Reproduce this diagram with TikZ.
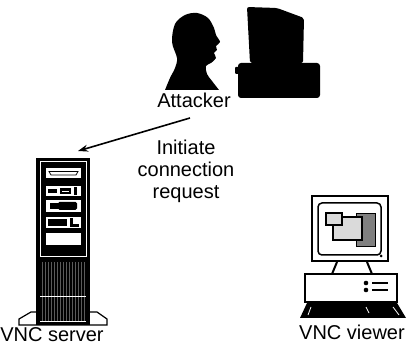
\documentclass[tikz,border=0pt]{standalone}
\usepackage{fontspec}
\setmainfont{Liberation Sans}
\usepackage{tikz}
\usetikzlibrary{arrows.meta}
\usepackage{xcolor}
\definecolor{PanelGrey}{HTML}{5A5A5A}
\definecolor{WinLight}{HTML}{DADADA}
\definecolor{WinDark}{HTML}{808080}

\begin{document}
\begin{tikzpicture}[x=1pt,y=-1pt,
    lbl/.style={font=\fontsize{20}{22}\selectfont,inner sep=0pt},
    outline/.style={draw=black,line width=2pt,fill=white}]
    \useasboundingbox (0,0) rectangle (408,345);

    % attacker head
    \fill plot[smooth,tension=0.55] coordinates {(165,90) (170,78) (175,68) (177,58) (172,42) (175,24)
        (185,15) (197,13) (208,18) (214,28) (216,35) (220,42) (216,46) (217,50) (214,53)
        (216,58) (211,63) (206,66) (207,74) (212,81) (219,90)} -- cycle;
    % attacker computer
    \fill[rounded corners=2pt] (247,7) -- (277,8) -- (304,18) -- (303,63) -- (250,63) -- cycle;
    \fill[rounded corners=3pt] (238,63) rectangle (320,98);
    \fill[rounded corners=1pt] (235,67) rectangle (240,74);
    \node[lbl,anchor=base] (attacker) at (194,108) {Attacker};

    % server tower
    \draw[draw=black,line width=1.2pt,fill=white] (19,325) -- (19,319) -- (31,312) -- (97,312)
        -- (107,319) -- (107,325) -- cycle;
    \fill (36,158) rectangle (90,325);
    \draw[white,line width=1pt] (40,161.5) rectangle (86.5,257);
    \foreach \x in {42,45,...,84}
        \draw[PanelGrey,line width=0.4pt] (\x,262) -- (\x,322);
    \draw[white,line width=1pt] (40,297) -- (86,297);
    \draw[white,line width=1pt] (40,322) -- (86,322);
    % drive bays
    \fill[white] (46,168) rectangle (81,178);
    \draw[line width=0.8pt] (49,171.5) -- (78,171.5) -- (76,175) -- (51,175) -- cycle;
    \fill[white] (46,186) rectangle (81,196);
    \fill (48,189) rectangle (57,193);
    \fill (60,188) rectangle (71,194);
    \draw[white,line width=0.8pt] (62,191) -- (69,191);
    \fill (74,187) rectangle (77,195);
    \fill[white] (46,200) rectangle (81,212);
    \fill (50,203) rectangle (60,209);
    \fill[rounded corners=1.5pt] (58,202) rectangle (77,210);
    \fill[white] (46,217) rectangle (81,228);
    \fill (48,219) rectangle (67,226);
    \fill (70,218) rectangle (73,227);
    \fill (70,224) rectangle (79,227);
    \fill[white] (46,233) rectangle (81,245);
    \node[lbl,anchor=base] (server) at (52,341.5) {VNC server};

    % viewer
    \draw[outline] (311.5,196) rectangle (387.5,261.5);
    \draw[outline,line width=1.5pt,rounded corners=4pt] (318,203) rectangle (381,255);
    \fill (381,256) circle (1.5pt);
    \draw[line width=1pt,fill=WinDark] (356,214) rectangle (375,247);
    \draw[line width=1.2pt,fill=WinLight] (333,217) rectangle (362,240);
    \draw[line width=1.2pt,fill=WinLight] (326,213) rectangle (342,225);
    \draw[line width=2pt] (337,262) -- (332,274);
    \draw[line width=2pt] (367,262) -- (372,274);
    \draw[outline] (305,274) rectangle (397,302);
    \fill (366,283) circle (2.3pt);
    \fill (366,290) circle (2.3pt);
    \draw[line width=2pt] (372,283) -- (388,283);
    \draw[line width=2pt] (372,290) -- (388,290);
    \fill (307,303) -- (397,303) -- (406,318) -- (300,318) -- cycle;
    \draw[white,line width=0.8pt] (311,307) -- (308,315);
    \draw[white,line width=0.8pt] (366,307) -- (369,313);
    \draw[white,line width=0.8pt] (393,307) -- (399,315);
    \node[lbl,anchor=base] (viewer) at (352,340) {VNC viewer};

    % request arrow
    \node[lbl,anchor=north,align=center] (request) at (186,140) {Initiate\\connection\\request};
    \coordinate (atk-out) at (190,118);
    \coordinate (srv-in) at (78,151);
    \draw[line width=1.6pt,-{Stealth[length=10pt,width=7pt]}] (atk-out) -- (srv-in);
\end{tikzpicture}
\end{document}
